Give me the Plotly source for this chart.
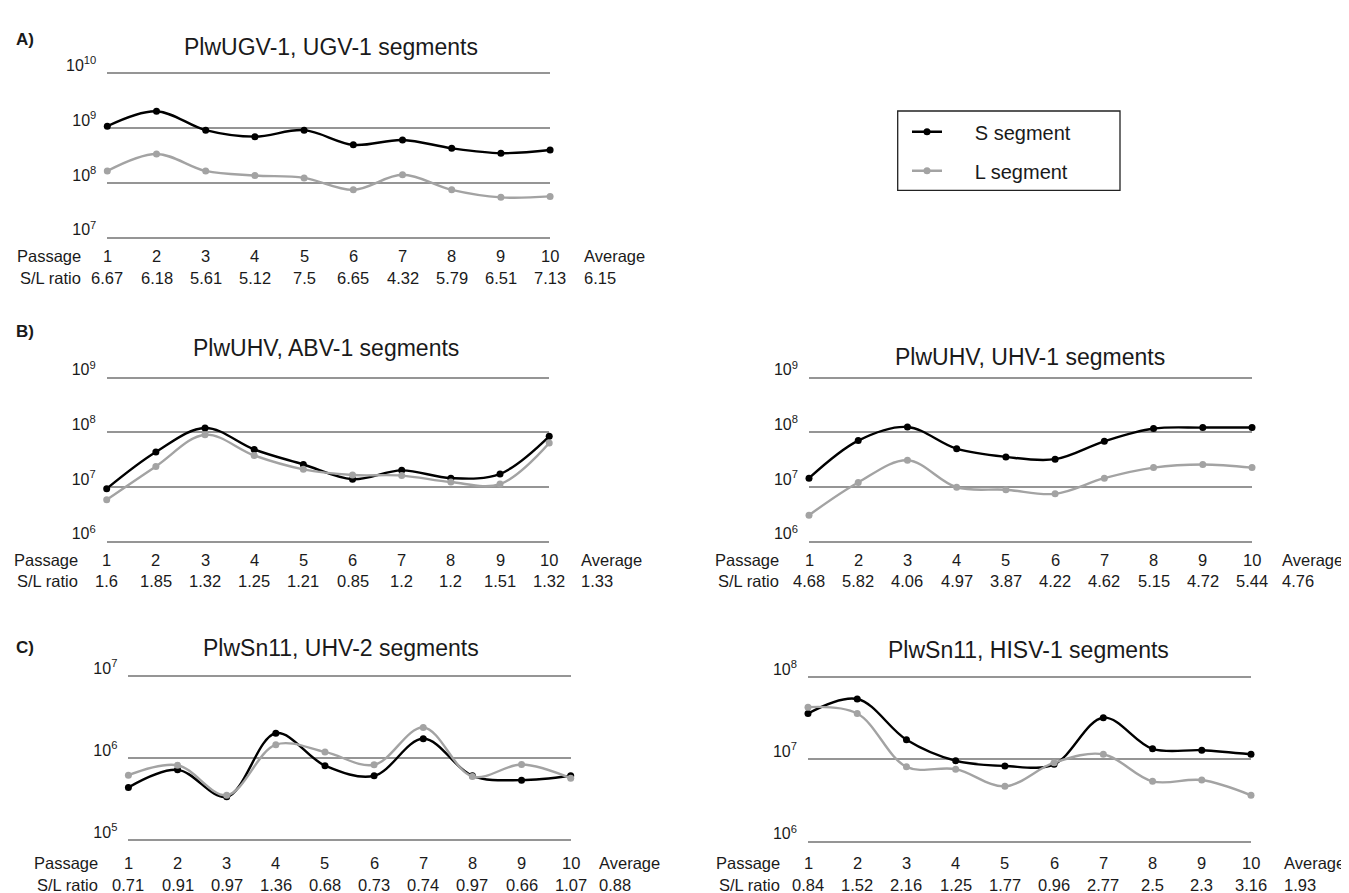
import plotly.graph_objects as go

# ---------------- data ----------------
passages = [1, 2, 3, 4, 5, 6, 7, 8, 9, 10]

titles = [
    "PlwUGV-1, UGV-1 segments",
    "PlwUHV, ABV-1 segments",
    "PlwUHV, UHV-1 segments",
    "PlwSn11, UHV-2 segments",
    "PlwSn11, HISV-1 segments",
]

s_ugv1 = [1.09e9, 2.04e9, 9.2e8, 7.0e8, 9.2e8, 4.97e8, 6.1e8, 4.3e8, 3.5e8, 4.0e8]
l_ugv1 = [1.66e8, 3.39e8, 1.66e8, 1.37e8, 1.24e8, 7.5e7, 1.41e8, 7.5e7, 5.47e7, 5.7e7]
ratio_ugv1 = ["6.67", "6.18", "5.61", "5.12", "7.5", "6.65", "4.32", "5.79", "6.51", "7.13"]
avg_ugv1 = "6.15"

s_abv1 = [9.4e6, 4.4e7, 1.21e8, 4.9e7, 2.6e7, 1.4e7, 2.03e7, 1.46e7, 1.75e7, 8.5e7]
l_abv1 = [5.9e6, 2.4e7, 9.1e7, 3.8e7, 2.12e7, 1.67e7, 1.63e7, 1.24e7, 1.14e7, 6.4e7]
ratio_abv1 = ["1.6", "1.85", "1.32", "1.25", "1.21", "0.85", "1.2", "1.2", "1.51", "1.32"]
avg_abv1 = "1.33"

s_uhv1 = [1.46e7, 7.1e7, 1.26e8, 5.05e7, 3.58e7, 3.25e7, 6.9e7, 1.18e8, 1.23e8, 1.23e8]
l_uhv1 = [3.08e6, 1.22e7, 3.11e7, 9.96e6, 9.0e6, 7.55e6, 1.46e7, 2.28e7, 2.6e7, 2.28e7]
ratio_uhv1 = ["4.68", "5.82", "4.06", "4.97", "3.87", "4.22", "4.62", "5.15", "4.72", "5.44"]
avg_uhv1 = "4.76"

s_uhv2 = [4.4e5, 7.2e5, 3.38e5, 2.01e6, 8.1e5, 6.1e5, 1.72e6, 6.1e5, 5.4e5, 6.1e5]
l_uhv2 = [6.2e5, 8.2e5, 3.54e5, 1.46e6, 1.19e6, 8.3e5, 2.36e6, 5.97e5, 8.36e5, 5.69e5]
ratio_uhv2 = ["0.71", "0.91", "0.97", "1.36", "0.68", "0.73", "0.74", "0.97", "0.66", "1.07"]
avg_uhv2 = "0.88"

s_hisv1 = [3.6e7, 5.4e7, 1.73e7, 9.6e6, 8.3e6, 8.7e6, 3.2e7, 1.34e7, 1.29e7, 1.15e7]
l_hisv1 = [4.3e7, 3.6e7, 8.1e6, 7.6e6, 4.7e6, 9.1e6, 1.15e7, 5.4e6, 5.6e6, 3.66e6]
ratio_hisv1 = ["0.84", "1.52", "2.16", "1.25", "1.77", "0.96", "2.77", "2.5", "2.3", "3.16"]
avg_hisv1 = "1.93"

decades = [
    [7, 8, 9, 10],
    [6, 7, 8, 9],
    [6, 7, 8, 9],
    [5, 6, 7],
    [6, 7, 8],
]

series_s = [s_ugv1, s_abv1, s_uhv1, s_uhv2, s_hisv1]
series_l = [l_ugv1, l_abv1, l_uhv1, l_uhv2, l_hisv1]
ratios = [ratio_ugv1, ratio_abv1, ratio_uhv1, ratio_uhv2, ratio_hisv1]
averages = [avg_ugv1, avg_abv1, avg_uhv1, avg_uhv2, avg_hisv1]

# ---------------- layout geometry (screen pixels) ----------------
OFF = 8                      # page body margin
W, H = 1349 - OFF, 893 - OFF
FONT = "Liberation Sans, Arial, sans-serif"
TXT = "#1a1a1a"
GRID = "#959595"
BLACK = "#000000"
GREY = "#a3a3a3"

# x0, x1, yTop, yBot, title_x, title_y, row1_y, row2_y, passage_right, average_left
geom = [
    (107.3, 550.1, 57.3, 225.0, 331, 30, 244, 266, 83, 582),
    (106.7, 549.2, 367.7, 535.0, 326, 337, 553, 575, 80, 579),
    (809.0, 1252.0, 367.7, 535.0, 1030, 346, 553, 575, 781, 1280),
    (128.4, 570.7, 671.7, 839.3, 341, 643, 862, 885, 100, 597),
    (808.0, 1251.0, 672.7, 840.7, 1028, 645, 862, 885, 782, 1282),
]

panel_letters = [("A)", 23), ("B)", 320), ("C)", 643)]


def px(x):
    return (x - OFF) / W


def py(y):
    return 1 - (y - OFF) / H


fig = go.Figure()
annotations = []
ROWF = dict(family=FONT, size=16.5, color=TXT)

for i in range(5):
    x0, x1, yt, yb, tx, ty, r1, r2, pr, al = geom[i]
    sfx = "" if i == 0 else str(i + 1)
    xa, ya = "x" + sfx, "y" + sfx
    show = i == 0
    fig.add_trace(go.Scatter(
        x=passages, y=series_s[i], mode="lines+markers",
        name="\u00a0\u00a0\u00a0\u00a0\u00a0S segment",
        line=dict(color=BLACK, width=2.4, shape="spline", smoothing=1),
        marker=dict(color=BLACK, size=7), xaxis=xa, yaxis=ya,
        showlegend=show, legendgroup="S", cliponaxis=False,
    ))
    fig.add_trace(go.Scatter(
        x=passages, y=series_l[i], mode="lines+markers",
        name="\u00a0\u00a0\u00a0\u00a0\u00a0L segment",
        line=dict(color=GREY, width=2.4, shape="spline", smoothing=1),
        marker=dict(color=GREY, size=7), xaxis=xa, yaxis=ya,
        showlegend=show, legendgroup="L", cliponaxis=False,
    ))
    dec = decades[i]
    ppd = (yb - yt) / (dec[-1] - dec[0])
    pad = 2.0 / ppd
    fig.update_layout({
        "xaxis" + sfx: dict(domain=[px(x0), px(x1)], range=[1, 10], anchor=ya,
                            showgrid=False, zeroline=False, showline=False,
                            showticklabels=False, ticks=""),
        "yaxis" + sfx: dict(domain=[py(yb + 2), py(yt - 2)], type="log",
                            range=[dec[0] - pad, dec[-1] + pad], anchor=xa,
                            tickvals=[10 ** d for d in dec],
                            ticktext=["10<sup>%d</sup>" % d for d in dec],
                            showgrid=True, gridcolor=GRID, gridwidth=1.5,
                            zeroline=False, showline=False, ticks="",
                            tickfont=dict(family=FONT, size=16, color=TXT),
                            ticklabelshift=-8, ticklabelstandoff=10),
    })
    annotations.append(dict(text=titles[i], x=px(tx), y=py(ty),
                            xref="paper", yref="paper", showarrow=False,
                            xanchor="center", yanchor="middle",
                            font=dict(family=FONT, size=23, color=TXT)))
    annotations.append(dict(text="Passage", x=px(pr), y=py(r1), xref="paper", yref="paper",
                            showarrow=False, xanchor="right", yanchor="middle", font=ROWF))
    annotations.append(dict(text="S/L ratio", x=px(pr), y=py(r2), xref="paper", yref="paper",
                            showarrow=False, xanchor="right", yanchor="middle", font=ROWF))
    annotations.append(dict(text="Average", x=px(al), y=py(r1), xref="paper", yref="paper",
                            showarrow=False, xanchor="left", yanchor="middle", font=ROWF))
    annotations.append(dict(text=averages[i], x=px(al), y=py(r2), xref="paper", yref="paper",
                            showarrow=False, xanchor="left", yanchor="middle", font=ROWF))
    for p, r in zip(passages, ratios[i]):
        annotations.append(dict(text=str(p), x=p, y=py(r1), xref=xa, yref="paper",
                                showarrow=False, xanchor="center", yanchor="middle", font=ROWF))
        annotations.append(dict(text=r, x=p, y=py(r2), xref=xa, yref="paper",
                                showarrow=False, xanchor="center", yanchor="middle", font=ROWF))

for lab, yy in panel_letters:
    annotations.append(dict(text="<b>%s</b>" % lab, x=px(14), y=py(yy), xref="paper",
                            yref="paper", showarrow=False, xanchor="left",
                            yanchor="middle", font=dict(family=FONT, size=17, color=TXT)))

fig.update_layout(
    width=W, height=H, margin=dict(l=0, r=0, t=0, b=0),
    paper_bgcolor="white", plot_bgcolor="white",
    annotations=annotations,
    shapes=[dict(type="rect", xref="paper", yref="paper",
                 x0=px(897.7), x1=px(1120), y0=py(176.7), y1=py(95.7),
                 line=dict(color="#222222", width=1.3))],
    legend=dict(x=px(907), y=py(97), xanchor="left", yanchor="top",
                traceorder="grouped", bgcolor="rgba(0,0,0,0)", borderwidth=0,
                font=dict(family=FONT, size=20, color=TXT),
                itemwidth=30, tracegroupgap=10),
    showlegend=True,
)

fig.write_html("out.html")
